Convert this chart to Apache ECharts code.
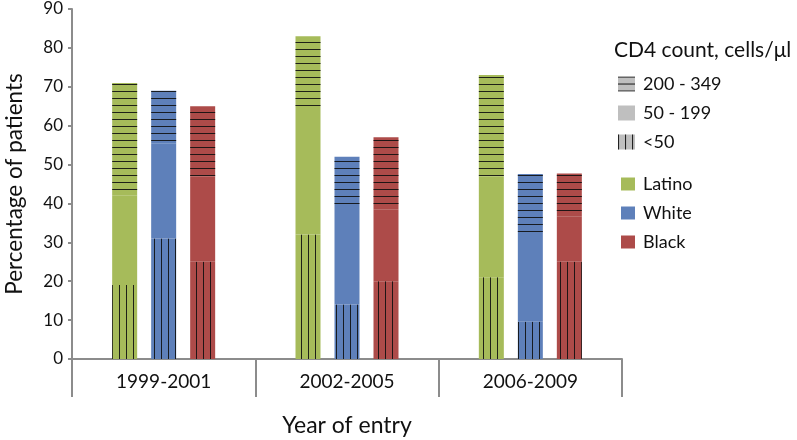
<!DOCTYPE html>
<html>
<head>
<meta charset="utf-8">
<script src="https://cdn.jsdelivr.net/npm/echarts@6/dist/echarts.min.js"></script>
<style>
  html, body { margin: 0; padding: 0; background: #ffffff; }
  #chart { width: 797px; height: 440px; }
</style>
</head>
<body>
<div id="chart"></div>
<script>
// ---- data ----
const categories = ['1999-2001', '2002-2005', '2006-2009'];
const races = ['Latino', 'White', 'Black'];
const cd4Levels = ['200 - 349', '50 - 199', '<50'];
const yTicks = [0, 10, 20, 30, 40, 50, 60, 70, 80, 90];

const latinoLt50 = [19, 32, 21];
const latino50to199 = [23, 32, 26];
const latino200to349 = [29, 19, 26];

const whiteLt50 = [31, 14, 9.6];
const white50to199 = [24.5, 24.6, 22];
const white200to349 = [13.5, 13.4, 16];

const blackLt50 = [25, 20, 25];
const black50to199 = [22, 18.4, 11.7];
const black200to349 = [18, 18.6, 11];

// ---- styles ----
const FONT = 'Lato';
const TXT = '#111111';
const raceColors = { Latino: '#a6bb5a', White: '#5e80ba', Black: '#ad4b49' };
const lineColor = 'rgba(15,15,15,0.9)';
const decalHoriz = {
  symbol: 'rect', symbolSize: 1, symbolKeepAspect: false,
  color: lineColor, backgroundColor: null,
  dashArrayX: [[20, 0]], dashArrayY: [1, 6], rotation: 0
};
const decalVert = {
  symbol: 'rect', symbolSize: 1, symbolKeepAspect: false,
  color: lineColor, backgroundColor: null,
  dashArrayX: [[1, 6]], dashArrayY: [20, 0], rotation: 0
};

const raceData = {
  Latino: [latinoLt50, latino50to199, latino200to349],
  White: [whiteLt50, white50to199, white200to349],
  Black: [blackLt50, black50to199, black200to349]
};

const series = [];
races.forEach(function (race) {
  const segs = raceData[race];
  series.push({
    name: race + ' <50', type: 'bar', stack: race, barWidth: 25, barGap: '56%',
    data: segs[0],
    itemStyle: { color: raceColors[race], decal: decalVert },
    emphasis: { disabled: true }
  });
  series.push({
    name: race, type: 'bar', stack: race, barWidth: 25, barGap: '56%',
    data: segs[1],
    itemStyle: { color: raceColors[race] },
    emphasis: { disabled: true }
  });
  series.push({
    name: race + ' 200 - 349', type: 'bar', stack: race, barWidth: 25, barGap: '56%',
    data: segs[2],
    itemStyle: { color: raceColors[race], decal: decalHoriz },
    emphasis: { disabled: true }
  });
});
// legend-only entries for CD4 count patterns
const cd4Decals = [decalHoriz, null, decalVert];
cd4Levels.forEach(function (lvl, i) {
  const st = { color: '#bfbfbf' };
  if (cd4Decals[i]) st.decal = cd4Decals[i];
  series.push({
    name: lvl, type: 'bar', stack: races[0], barWidth: 25, barGap: '56%',
    data: [], itemStyle: st
  });
});

const axisGray = '#8c8c8c';

const option = {
  animation: false,
  backgroundColor: '#ffffff',
  textStyle: { fontFamily: FONT },
  title: {
    text: 'CD4 count, cells/\u03bcl',
    left: 614, top: 40, padding: 0,
    textStyle: { fontFamily: FONT, fontSize: 21, fontWeight: 'normal', color: TXT }
  },
  legend: [
    {
      data: cd4Levels,
      orient: 'vertical', left: 618, top: 74, padding: 0,
      icon: 'rect',
      itemWidth: 17, itemHeight: 15, itemGap: 9,
      selectedMode: false,
      textStyle: { fontFamily: FONT, fontSize: 18, color: TXT, lineHeight: 20, padding: [0, 0, 0, 3] }
    },
    {
      data: races,
      orient: 'vertical', left: 621, top: 174, padding: 0,
      icon: 'rect',
      itemWidth: 14, itemHeight: 13, itemGap: 9,
      selectedMode: false,
      textStyle: { fontFamily: FONT, fontSize: 18, color: TXT, lineHeight: 20, padding: [0, 0, 0, 3] }
    }
  ],
  grid: { left: 72, right: 175, top: 9, bottom: 81, containLabel: false, outerBoundsMode: 'none' },
  xAxis: {
    type: 'category',
    data: categories,
    boundaryGap: true,
    name: 'Year of entry',
    nameLocation: 'middle',
    nameGap: 55,
    nameTextStyle: { fontFamily: FONT, fontSize: 23, color: TXT },
    axisLine: { show: true, lineStyle: { color: axisGray, width: 2 } },
    axisTick: { show: true, alignWithLabel: false, length: 38, lineStyle: { color: axisGray, width: 2 } },
    axisLabel: { fontFamily: FONT, fontSize: 19, color: TXT, margin: 13 },
    splitLine: { show: false }
  },
  yAxis: {
    type: 'value',
    min: yTicks[0], max: yTicks[yTicks.length - 1], interval: 10,
    name: 'Percentage of patients',
    nameLocation: 'middle',
    nameGap: 46,
    nameTextStyle: { fontFamily: FONT, fontSize: 22.5, color: TXT },
    axisLine: { show: true, lineStyle: { color: axisGray, width: 2 } },
    axisTick: { show: true, inside: false, length: 4, lineStyle: { color: axisGray, width: 2 } },
    axisLabel: { fontFamily: FONT, fontSize: 17, color: TXT, margin: 9 },
    splitLine: { show: false }
  },
  series: series
};

const chart = echarts.init(document.getElementById('chart'), null, { renderer: 'canvas' });
chart.setOption(option);
</script>
</body>
</html>
